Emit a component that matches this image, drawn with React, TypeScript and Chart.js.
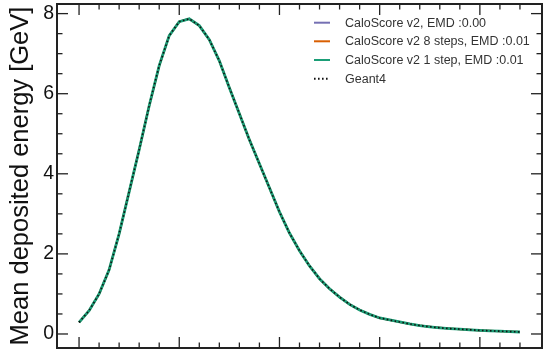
import { useEffect, useRef } from 'react';
import { Chart, registerables } from 'chart.js';

Chart.register(...registerables);

// Layer index (x) and mean deposited energy per layer (y, GeV)
const layers = [
  0, 1, 2, 3, 4, 5, 6, 7, 8, 9, 10, 11, 12, 13, 14, 15, 16, 17, 18, 19, 20, 21, 22,
  23, 24, 25, 26, 27, 28, 29, 30, 31, 32, 33, 34, 35, 36, 37, 38, 39, 40, 41, 42, 43, 44,
];

const geant4 = [
  0.29, 0.58, 1.0, 1.6, 2.5, 3.55, 4.6, 5.7, 6.7, 7.45, 7.8, 7.87, 7.7, 7.35, 6.82,
  6.15, 5.5, 4.85, 4.25, 3.65, 3.05, 2.52, 2.08, 1.7, 1.38, 1.13, 0.92, 0.74, 0.6,
  0.49, 0.4, 0.35, 0.3, 0.25, 0.21, 0.18, 0.155, 0.135, 0.12, 0.105, 0.09, 0.08,
  0.07, 0.06, 0.05,
];

const caloScoreV2 = [
  0.29, 0.58, 1.0, 1.6, 2.5, 3.55, 4.6, 5.7, 6.7, 7.45, 7.8, 7.87, 7.7, 7.35, 6.82,
  6.15, 5.5, 4.85, 4.25, 3.65, 3.05, 2.52, 2.08, 1.7, 1.38, 1.13, 0.92, 0.74, 0.6,
  0.49, 0.4, 0.35, 0.3, 0.25, 0.21, 0.18, 0.155, 0.135, 0.12, 0.105, 0.09, 0.08,
  0.07, 0.06, 0.05,
];

const caloScore8Steps = [
  0.29, 0.58, 1.0, 1.6, 2.5, 3.55, 4.6, 5.7, 6.7, 7.45, 7.8, 7.87, 7.7, 7.35, 6.82,
  6.15, 5.5, 4.85, 4.25, 3.65, 3.05, 2.52, 2.08, 1.7, 1.38, 1.13, 0.92, 0.74, 0.6,
  0.49, 0.4, 0.35, 0.3, 0.25, 0.21, 0.18, 0.155, 0.135, 0.12, 0.105, 0.09, 0.08,
  0.07, 0.06, 0.05,
];

const caloScore1Step = [
  0.29, 0.58, 1.0, 1.6, 2.5, 3.55, 4.6, 5.7, 6.7, 7.45, 7.8, 7.87, 7.7, 7.35, 6.82,
  6.15, 5.5, 4.85, 4.25, 3.65, 3.05, 2.52, 2.08, 1.7, 1.38, 1.13, 0.92, 0.74, 0.6,
  0.49, 0.4, 0.35, 0.3, 0.25, 0.21, 0.18, 0.155, 0.135, 0.12, 0.105, 0.09, 0.08,
  0.07, 0.06, 0.05,
];

const seriesLabels = [
  'CaloScore v2, EMD :0.00',
  'CaloScore v2 8 steps, EMD :0.01',
  'CaloScore v2 1 step, EMD :0.01',
  'Geant4',
];

const yTickLabels = [0, 2, 4, 6, 8];
const yMinorTicks = [0.5, 1, 1.5, 2.5, 3, 3.5, 4.5, 5, 5.5, 6.5, 7, 7.5];
const xMajorTicks = [0, 10, 20, 30, 40];
const xMinorTicks = [2, 4, 6, 8, 12, 14, 16, 18, 22, 24, 26, 28, 32, 34, 36, 38, 42, 44];

const FONT = '"Liberation Sans", Arial, Helvetica, sans-serif';

const toPoints = (vals: number[]) => vals.map((v, i) => ({ x: layers[i], y: v }));

const frameTicksPlugin = {
  id: 'frameTicks',
  afterDraw(chart: any) {
    const { ctx, chartArea } = chart;
    const { left, right, top, bottom } = chartArea;
    const x = chart.scales.x;
    const y = chart.scales.y;
    const seg = (x1: number, y1: number, x2: number, y2: number) => {
      ctx.beginPath();
      ctx.moveTo(x1, y1);
      ctx.lineTo(x2, y2);
      ctx.stroke();
    };
    ctx.save();
    ctx.strokeStyle = '#222';
    ctx.lineWidth = 1.3;
    const major = 11;
    const minor = 5.5;
    xMajorTicks.forEach((v) => {
      const p = x.getPixelForValue(v);
      seg(p, bottom, p, bottom - major);
      seg(p, top, p, top + major);
    });
    xMinorTicks.forEach((v) => {
      const p = x.getPixelForValue(v);
      seg(p, bottom, p, bottom - minor);
      seg(p, top, p, top + minor);
    });
    yTickLabels.forEach((v) => {
      const p = y.getPixelForValue(v);
      seg(left, p, left + major, p);
      seg(right, p, right - major, p);
    });
    yMinorTicks.forEach((v) => {
      const p = y.getPixelForValue(v);
      seg(left, p, left + minor, p);
      seg(right, p, right - minor, p);
    });
    ctx.lineWidth = 2;
    ctx.strokeRect(left, top, right - left, bottom - top);
    ctx.restore();
  },
};

const legendOrder = [0, 1, 2, 3];

const legendPlugin = {
  id: 'customLegend',
  afterDraw(chart: any) {
    const { ctx } = chart;
    const lineX0 = 314;
    const lineX1 = 330;
    const textX = 345;
    const rowY = [22.7, 41.3, 60, 78.7];
    ctx.save();
    ctx.font = `12.5px ${FONT}`;
    ctx.textBaseline = 'middle';
    ctx.textAlign = 'left';
    legendOrder.forEach((di, i) => {
      const ds: any = chart.data.datasets[di];
      const yy = rowY[i];
      ctx.strokeStyle = ds.borderColor;
      ctx.lineWidth = 2;
      ctx.setLineDash(ds.borderDash || []);
      ctx.beginPath();
      ctx.moveTo(lineX0, yy);
      ctx.lineTo(lineX1, yy);
      ctx.stroke();
      ctx.setLineDash([]);
      ctx.fillStyle = '#333';
      ctx.fillText(ds.label, textX, yy + 0.5);
    });
    ctx.restore();
  },
};

export default function App() {
  const ref = useRef<HTMLCanvasElement>(null);
  useEffect(() => {
    if (!ref.current) return;
    const chart = new Chart(ref.current, {
      type: 'line',
      data: {
        datasets: [
          {
            label: seriesLabels[0],
            data: toPoints(caloScoreV2),
            borderColor: '#7570b3',
            borderWidth: 2,
            pointRadius: 0,
            tension: 0,
            order: 4,
          },
          {
            label: seriesLabels[1],
            data: toPoints(caloScore8Steps),
            borderColor: '#d95f02',
            borderWidth: 2,
            pointRadius: 0,
            tension: 0,
            order: 3,
          },
          {
            label: seriesLabels[2],
            data: toPoints(caloScore1Step),
            borderColor: '#1b9e77',
            borderWidth: 2.8,
            pointRadius: 0,
            tension: 0,
            order: 2,
          },
          {
            label: seriesLabels[3],
            data: toPoints(geant4),
            borderColor: '#111',
            borderWidth: 1.6,
            borderDash: [1.6, 2.4],
            pointRadius: 0,
            tension: 0,
            order: 1,
          },
        ],
      },
      options: {
        animation: false,
        responsive: false,
        maintainAspectRatio: false,
        layout: { padding: { top: 4, right: 4, left: 0, bottom: 0 } },
        plugins: {
          legend: { display: false },
          tooltip: { enabled: false },
        },
        scales: {
          x: {
            type: 'linear',
            min: -2.2,
            max: 46.2,
            grid: { display: false, drawTicks: false },
            border: { display: false },
            ticks: { display: false },
            afterFit: (s: any) => {
              s.height = 8;
              s.paddingLeft = 0;
              s.paddingRight = 0;
            },
          },
          y: {
            type: 'linear',
            min: -0.35,
            max: 8.24,
            grid: { display: false, drawTicks: false },
            border: { display: false },
            afterBuildTicks: (s: any) => {
              s.ticks = yTickLabels.map((v) => ({ value: v }));
            },
            ticks: {
              font: { family: FONT, size: 19.5 },
              color: '#111',
              padding: 3,
            },
            title: {
              display: true,
              text: 'Mean deposited energy [GeV]',
              font: { family: FONT, size: 25.5 },
              color: '#111',
              padding: { top: 6, bottom: 0 },
            },
            afterFit: (s: any) => {
              s.width = 57;
              s.paddingTop = 0;
              s.paddingBottom = 0;
            },
          },
        },
      },
      plugins: [frameTicksPlugin, legendPlugin],
    });
    return () => chart.destroy();
  }, []);
  return (
    <div style={{ position: 'fixed', left: 0, top: 0, width: 546, height: 356, background: '#fff' }}>
      <canvas ref={ref} width={546} height={356} style={{ width: 546, height: 356 }} />
    </div>
  );
}
